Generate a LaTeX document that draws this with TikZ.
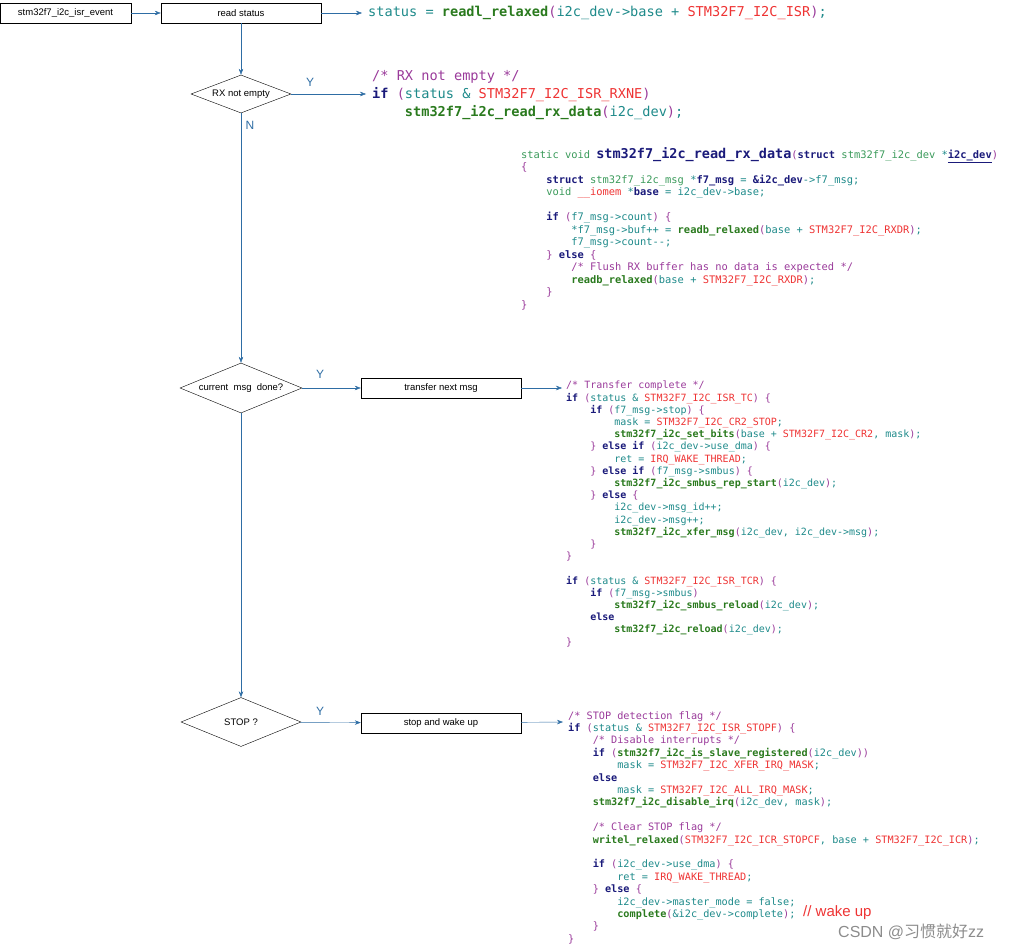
\documentclass[tikz,border=0pt]{standalone}
\usepackage{fontspec}
\setmainfont{Liberation Sans}
\newfontfamily\codefont{DejaVu Sans Mono}
\newfontfamily\cjkfont{Noto Sans CJK SC}
\usetikzlibrary{arrows.meta,shapes.geometric}
\definecolor{kw}{HTML}{1A1A7A}
\definecolor{fn}{HTML}{2A7A1E}
\definecolor{cs}{HTML}{EE3333}
\definecolor{vr}{HTML}{1E8A8A}
\definecolor{cm}{HTML}{9A3A9A}
\definecolor{ar}{HTML}{2E6DA4}
\definecolor{ty}{HTML}{3A9A5A}
\newcommand\kwd[1]{\textbf{\color{kw}#1}}
\newcommand\fnc[1]{\textbf{\color{fn}#1}}
\newcommand\cst[1]{{\color{cs}#1}}
\newcommand\vrb[1]{{\color{vr}#1}}
\newcommand\cmt[1]{{\color{cm}#1}}
\newcommand\ind[1]{\hspace*{#1\fontcharwd\font`0}}
\begin{document}
\begin{tikzpicture}[x=1pt,y=-1pt,
  box/.style={draw,thin,minimum height=20pt,inner sep=0pt,font=\fontsize{9.5}{11}\selectfont},
  dia/.style={diamond,draw,thin,inner sep=0pt,aspect=2.6,font=\fontsize{9.5}{11}\selectfont},
  arr/.style={draw=ar,-{Stealth[length=6pt,width=4.5pt]},thin},
  lin/.style={draw=ar,thin},
  yn/.style={text=ar,font=\fontsize{12}{14}\selectfont},
  code/.style={anchor=north west,inner sep=0pt,align=left,text=vr}]
\useasboundingbox (0,0) rectangle (1023,950);
% flowchart
\node[box,minimum width=131pt] (isr) at (65.5,13) {stm32f7\_i2c\_isr\_event};
\node[box,minimum width=160pt] (rs) at (241,13) {read status};
\node[dia,minimum width=100pt,minimum height=38pt] (rx) at (241,94) {RX not empty};
\node[dia,minimum width=122pt,minimum height=50pt] (cur) at (241,388) {current\ \ msg\ \ done?};
\node[dia,minimum width=120pt,minimum height=49pt] (stop) at (241,722) {STOP ?};
\node[box,minimum width=160pt] (tn) at (441,388) {transfer next msg};
\node[box,minimum width=160pt] (sw) at (441,723) {stop and wake up};
\coordinate (c0) at (362,13);
\coordinate (c1) at (366,94);
\coordinate (c2) at (562,388);
\coordinate (c3) at (563,722);
\draw[arr] (isr) -- (rs);
\draw[arr] (rs) -- (c0);
\draw[arr] (rs) -- (rx);
\draw[arr] (rx) -- (c1);
\draw[arr] (rx) -- (cur);
\draw[arr] (cur) -- (tn);
\draw[arr] (tn) -- (c2);
\draw[arr] (cur) -- (stop);
\draw[arr] (stop) -- (sw);
\draw[arr] (sw) -- (c3);
\node[yn] (y1) at (310,82) {Y};
\node[yn] (n1) at (250,125) {N};
\node[yn] (y2) at (320,374) {Y};
\node[yn] (y3) at (320,711) {Y};
% top code
\node[anchor=west,inner sep=0pt,font=\codefont\fontsize{13.6}{18}\selectfont,text=vr] (t0) at (368,13)
 {status = \fnc{readl\_relaxed}\cmt{(}i2c\_dev->base + \cst{STM32F7\_I2C\_ISR}\cmt{)};};
\node[code,font=\codefont\fontsize{13.6}{18}\selectfont] (t1) at (372,70)
 {\cmt{/* RX not empty */}\\
  \kwd{if} \cmt{(}status \& \cst{STM32F7\_I2C\_ISR\_RXNE}\cmt{)}\\
  \ind{4}\fnc{stm32f7\_i2c\_read\_rx\_data}\cmt{(}i2c\_dev\cmt{)};};
% block 1
\node[code,font=\codefont\fontsize{10.4}{12.5}\selectfont] (b1) at (521,147)
 {{\color{ty}static void} \kwd{\fontsize{13.5}{14}\selectfont stm32f7\_i2c\_read\_rx\_data}\cmt{(}\kwd{struct} {\color{ty}stm32f7\_i2c\_dev} *\kwd{\underline{i2c\_dev}}\cmt{)}\\
  \cmt{\{}\\
  \ind{4}\kwd{struct} {\color{ty}stm32f7\_i2c\_msg} *\kwd{f7\_msg} = \kwd{\&i2c\_dev}->f7\_msg;\\
  \ind{4}{\color{ty}void} \cst{\_\_iomem} *\kwd{base} = i2c\_dev->base;\\
  \mbox{}\\
  \ind{4}\kwd{if} \cmt{(}f7\_msg->count\cmt{)} \cmt{\{}\\
  \ind{8}*f7\_msg->buf++ = \fnc{readb\_relaxed}\cmt{(}base + \cst{STM32F7\_I2C\_RXDR}\cmt{)};\\
  \ind{8}f7\_msg->count-{}-;\\
  \ind{4}\cmt{\}} \kwd{else} \cmt{\{}\\
  \ind{8}\cmt{/* Flush RX buffer has no data is expected */}\\
  \ind{8}\fnc{readb\_relaxed}\cmt{(}base + \cst{STM32F7\_I2C\_RXDR}\cmt{)};\\
  \ind{4}\cmt{\}}\\
  \cmt{\}}};
% block 2
\node[code,font=\codefont\fontsize{10}{12.2}\selectfont] (b2) at (566,381)
 {\cmt{/* Transfer complete */}\\
  \kwd{if} \cmt{(}status \& \cst{STM32F7\_I2C\_ISR\_TC}\cmt{)} \cmt{\{}\\
  \ind{4}\kwd{if} \cmt{(}f7\_msg->stop\cmt{)} \cmt{\{}\\
  \ind{8}mask = \cst{STM32F7\_I2C\_CR2\_STOP};\\
  \ind{8}\fnc{stm32f7\_i2c\_set\_bits}\cmt{(}base + \cst{STM32F7\_I2C\_CR2}, mask\cmt{)};\\
  \ind{4}\cmt{\}} \kwd{else if} \cmt{(}i2c\_dev->use\_dma\cmt{)} \cmt{\{}\\
  \ind{8}ret = \cst{IRQ\_WAKE\_THREAD};\\
  \ind{4}\cmt{\}} \kwd{else if} \cmt{(}f7\_msg->smbus\cmt{)} \cmt{\{}\\
  \ind{8}\fnc{stm32f7\_i2c\_smbus\_rep\_start}\cmt{(}i2c\_dev\cmt{)};\\
  \ind{4}\cmt{\}} \kwd{else} \cmt{\{}\\
  \ind{8}i2c\_dev->msg\_id++;\\
  \ind{8}i2c\_dev->msg++;\\
  \ind{8}\fnc{stm32f7\_i2c\_xfer\_msg}\cmt{(}i2c\_dev, i2c\_dev->msg\cmt{)};\\
  \ind{4}\cmt{\}}\\
  \cmt{\}}\\
  \mbox{}\\
  \kwd{if} \cmt{(}status \& \cst{STM32F7\_I2C\_ISR\_TCR}\cmt{)} \cmt{\{}\\
  \ind{4}\kwd{if} \cmt{(}f7\_msg->smbus\cmt{)}\\
  \ind{8}\fnc{stm32f7\_i2c\_smbus\_reload}\cmt{(}i2c\_dev\cmt{)};\\
  \ind{4}\kwd{else}\\
  \ind{8}\fnc{stm32f7\_i2c\_reload}\cmt{(}i2c\_dev\cmt{)};\\
  \cmt{\}}};
% block 3
\node[code,font=\codefont\fontsize{10.2}{12.4}\selectfont] (b3) at (568,711)
 {\cmt{/* STOP detection flag */}\\
  \kwd{if} \cmt{(}status \& \cst{STM32F7\_I2C\_ISR\_STOPF}\cmt{)} \cmt{\{}\\
  \ind{4}\cmt{/* Disable interrupts */}\\
  \ind{4}\kwd{if} \cmt{(}\fnc{stm32f7\_i2c\_is\_slave\_registered}\cmt{(}i2c\_dev\cmt{))}\\
  \ind{8}mask = \cst{STM32F7\_I2C\_XFER\_IRQ\_MASK};\\
  \ind{4}\kwd{else}\\
  \ind{8}mask = \cst{STM32F7\_I2C\_ALL\_IRQ\_MASK};\\
  \ind{4}\fnc{stm32f7\_i2c\_disable\_irq}\cmt{(}i2c\_dev, mask\cmt{)};\\
  \mbox{}\\
  \ind{4}\cmt{/* Clear STOP flag */}\\
  \ind{4}\fnc{writel\_relaxed}\cmt{(}\cst{STM32F7\_I2C\_ICR\_STOPCF}, base + \cst{STM32F7\_I2C\_ICR}\cmt{)};\\
  \mbox{}\\
  \ind{4}\kwd{if} \cmt{(}i2c\_dev->use\_dma\cmt{)} \cmt{\{}\\
  \ind{8}ret = \cst{IRQ\_WAKE\_THREAD};\\
  \ind{4}\cmt{\}} \kwd{else} \cmt{\{}\\
  \ind{8}i2c\_dev->master\_mode = false;\\
  \ind{8}\fnc{complete}\cmt{(}\&i2c\_dev->complete\cmt{)};\\
  \ind{4}\cmt{\}}\\
  \cmt{\}}};
\node[anchor=west,inner sep=0pt,text=cs,font=\fontsize{15}{17}\selectfont] (wk) at (803,913) {// wake up};
\node[anchor=west,inner sep=0pt,text=black!45,font=\fontsize{16}{18}\selectfont] (wm) at (838,932) {CSDN @\cjkfont 习惯就好\rmfamily zz};
\end{tikzpicture}
\end{document}
